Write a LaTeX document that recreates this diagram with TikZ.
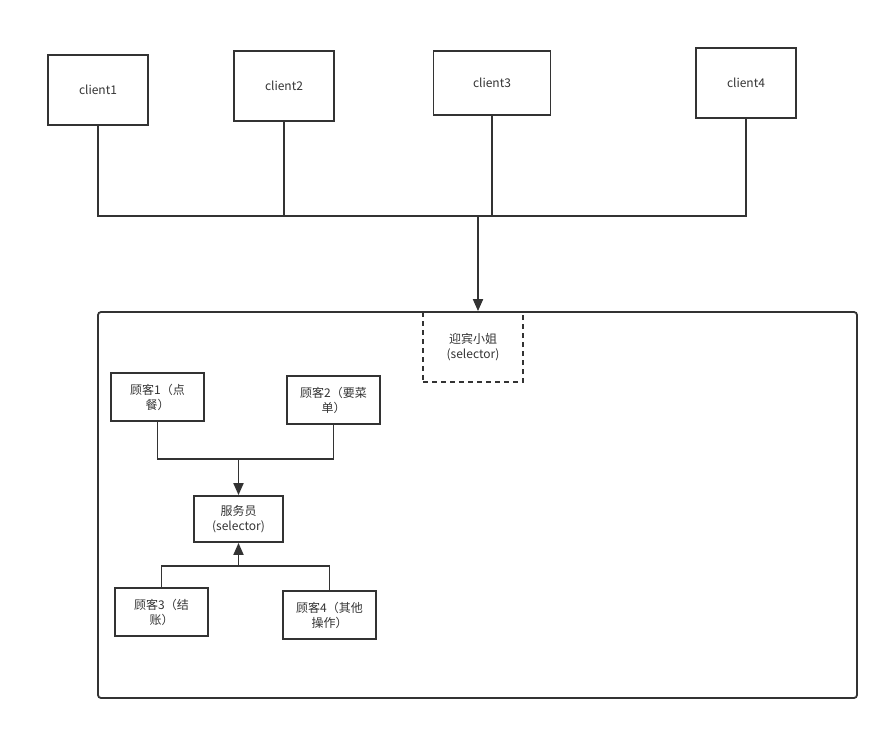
\documentclass[tikz,border=0pt]{standalone}
\usepackage{fontspec}
\setmainfont{Noto Sans CJK SC}
\usetikzlibrary{arrows.meta}

\tikzset{
  box/.style={draw=black!80,line width=1.8pt,align=center,font=\fontsize{12}{15}\selectfont,text=black!80},
  dashbox/.style={box,dashed,dash pattern=on 5pt off 4pt},
  link/.style={draw=black!80,line width=1.8pt},
  arrow/.style={link,-{Triangle[length=12pt,width=10pt]}}
}

\begin{document}
\begin{tikzpicture}[x=1pt,y=-1pt]
        \useasboundingbox (0,0) rectangle (889,731);

        \node (c1) at (98,90) [box,minimum width=100pt,minimum height=70pt] {client1};
        \node (c2) at (284,86) [box,minimum width=100pt,minimum height=70pt] {client2};
        \node (c3) at (492,83) [box,minimum width=117pt,minimum height=64pt] {client3};
        \node (c4) at (746,83) [box,minimum width=100pt,minimum height=70pt] {client4};

        \draw[link,rounded corners=3pt] (98,312) rectangle (857,698);

        \node (G) at (473,347) [dashbox,minimum width=100pt,minimum height=70pt] {迎宾小姐\\(selector)};
        \node (g1) at (157.5,397) [box,minimum width=93pt,minimum height=48pt] {顾客1（点\\餐）};
        \node (g2) at (333.5,400) [box,minimum width=93pt,minimum height=48pt] {顾客2（要菜\\单）};
        \node (W) at (238.5,519) [box,minimum width=89pt,minimum height=46pt] {服务员\\(selector)};
        \node (g3) at (161.5,612) [box,minimum width=93pt,minimum height=48pt] {顾客3（结\\账）};
        \node (g4) at (329.5,615) [box,minimum width=93pt,minimum height=48pt] {顾客4（其他\\操作）};

        \coordinate (J) at (478,216);
        \coordinate (U) at (238.5,459);
        \coordinate (D) at (238.5,566);

        \draw[link] (c1.south) |- (J);
        \draw[link] (c2.south) |- (J);
        \draw[link] (c3.south) |- (J);
        \draw[link] (c4.south) |- (J);
        \draw[arrow] (J) -- (J |- G.north);

        \draw[link] (g1.south) |- (U);
        \draw[link] (g2.south) |- (U);
        \draw[arrow] (U) -- (W.north);

        \draw[link] (g3.north) |- (D);
        \draw[link] (g4.north) |- (D);
        \draw[arrow] (D) -- (W.south);
    \end{tikzpicture}
\end{document}
